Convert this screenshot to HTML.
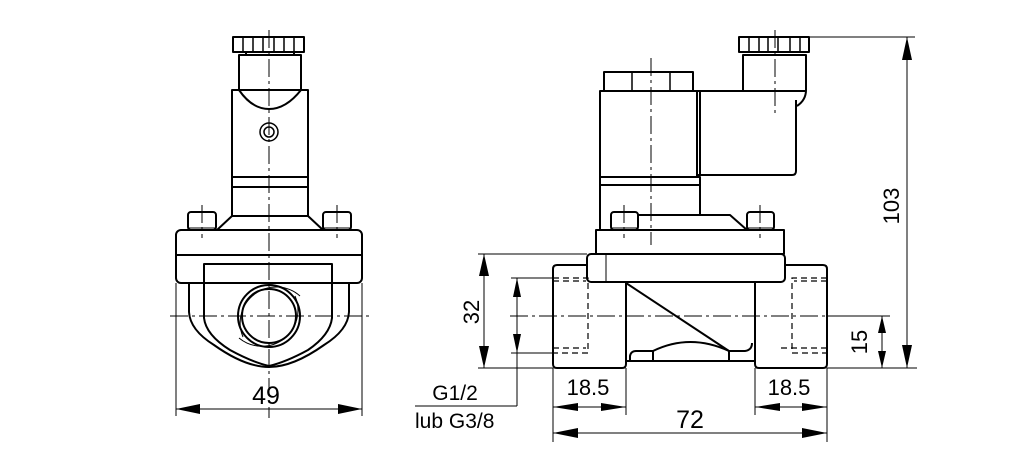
<!DOCTYPE html>
<html><head><meta charset="utf-8"><style>
html,body{margin:0;padding:0;background:#fff;}
svg{display:block;}
text{font-family:"Liberation Sans",sans-serif;fill:#000;}
</style></head><body>
<svg width="1034" height="472" viewBox="0 0 1034 472" xmlns="http://www.w3.org/2000/svg">
<g fill="none" stroke="#000" stroke-width="2" stroke-linejoin="round">
<!-- LEFT VIEW -->
<rect x="233" y="37" width="71" height="15"/>
<line x1="243" y1="37" x2="243" y2="52" stroke-width="1.5"/><line x1="253" y1="37" x2="253" y2="52" stroke-width="1.5"/><line x1="263" y1="37" x2="263" y2="52" stroke-width="1.5"/><line x1="274" y1="37" x2="274" y2="52" stroke-width="1.5"/><line x1="284" y1="37" x2="284" y2="52" stroke-width="1.5"/><line x1="294" y1="37" x2="294" y2="52" stroke-width="1.5"/>
<line x1="246" y1="52" x2="246" y2="55"/><line x1="294" y1="52" x2="294" y2="55"/>
<path d="M239 90 V55 H301 V90"/>
<path d="M239 90 Q252 109 269 109 Q286 109 301 90"/>
<rect x="232" y="90" width="76" height="126"/>
<line x1="232" y1="177" x2="308" y2="177"/><line x1="232" y1="187" x2="308" y2="187"/>
<circle cx="269" cy="132" r="9" stroke-width="1.5"/><circle cx="269" cy="132" r="5" stroke-width="1.5"/>
<path d="M232 216 L217 230 M308 216 L323 230"/>
<rect x="188" y="212" width="28" height="18" rx="3"/>
<rect x="323" y="212" width="28" height="18" rx="3"/>
<line x1="188" y1="228" x2="216" y2="228" stroke-width="1"/><line x1="323" y1="228" x2="351" y2="228" stroke-width="1"/>
<rect x="176" y="230" width="186" height="53" rx="5"/>
<line x1="176" y1="255" x2="362" y2="255"/>
<path d="M189 283 V312 Q190 330 214 345 Q245 367 269 367 Q293 367 324 345 Q348 330 349 312 V283"/>
<path d="M204 283 V264 H332 V283 M204 283 V318 Q206 335 230 350 Q252 362 269 366 M332 283 V318 Q330 335 308 350 Q286 362 269 366"/>
<circle cx="269" cy="316" r="27"/>
<circle cx="269" cy="316" r="31"/>
<path d="M243 337 A36 36 0 0 1 300 296" stroke-width="1"/>
<path d="M295 296 A36 36 0 0 1 239 338" stroke-width="1"/>
<!-- RIGHT VIEW -->
<rect x="739" y="37" width="70" height="15"/>
<line x1="749" y1="37" x2="749" y2="52" stroke-width="1.5"/><line x1="759" y1="37" x2="759" y2="52" stroke-width="1.5"/><line x1="768" y1="37" x2="768" y2="52" stroke-width="1.5"/><line x1="778" y1="37" x2="778" y2="52" stroke-width="1.5"/><line x1="790" y1="37" x2="790" y2="52" stroke-width="1.5"/><line x1="800" y1="37" x2="800" y2="52" stroke-width="1.5"/>
<path d="M743 91 V55 H806 V90 Q806 100 797 106"/>
<path d="M697 91 H806"/>
<path d="M697 91 V175 H792 Q796 175 796 171 V100"/>
<rect x="604" y="72" width="89" height="19"/>
<line x1="632" y1="72" x2="632" y2="91" stroke-width="1.5"/><line x1="670" y1="72" x2="670" y2="91" stroke-width="1.5"/>
<rect x="600" y="91" width="97" height="86"/>
<line x1="700" y1="91" x2="700" y2="175"/>
<path d="M600 177 H700 V215 M600 185 H700 M600 177 V230"/>
<path d="M638 215 H730 L747 230"/>
<rect x="611" y="212" width="27" height="18" rx="3"/>
<rect x="747" y="212" width="27" height="18" rx="3"/>
<line x1="611" y1="228" x2="638" y2="228" stroke-width="1"/><line x1="747" y1="228" x2="774" y2="228" stroke-width="1"/>
<rect x="596" y="230" width="188" height="24"/>
<rect x="587" y="254" width="198" height="28" rx="4"/>
<line x1="606" y1="254" x2="606" y2="282" stroke-width="1"/>
<path d="M587 265 H557 Q553 265 553 269 V364 Q553 368 557 368 H622 Q626 368 626 364 V283"/>
<path d="M785 265 H823 Q827 265 827 269 V364 Q827 368 823 368 H759 Q755 368 755 364 V283"/>
<path d="M626 283 L729 351"/>
<path d="M626 361 H755 M630 361 V356 Q631 351 636 351 H653 V361 M653 351 Q690 333 729 351 V361 M729 351 H745 Q752 350 752 343"/>
</g>
<!-- dashed threads -->
<g fill="none" stroke="#000" stroke-width="1.2" stroke-dasharray="6,4">
<path d="M553 278 H588 V353 H553 M553 281 H586"/>
<path d="M553 348 H586"/>
<path d="M827 278 H792 V353 H827 M827 281 H794 M827 348 H780"/>
</g>
<!-- centerlines -->
<g fill="none" stroke="#000" stroke-width="1" stroke-dasharray="18,4,3,4">
<line x1="269" y1="30" x2="269" y2="418"/>
<line x1="170" y1="316" x2="372" y2="316"/>
<line x1="651" y1="58" x2="651" y2="245"/>
<line x1="775" y1="30" x2="775" y2="115"/>
<line x1="510" y1="316" x2="890" y2="316"/>
<line x1="202" y1="205" x2="202" y2="238"/><line x1="337" y1="205" x2="337" y2="238"/>
<line x1="624" y1="205" x2="624" y2="238"/><line x1="760" y1="205" x2="760" y2="238"/>
</g>
<!-- dimension lines -->
<g fill="none" stroke="#000" stroke-width="1">
<line x1="176" y1="283" x2="176" y2="416"/><line x1="362" y1="283" x2="362" y2="416"/>
<line x1="176" y1="409" x2="362" y2="409"/>
<line x1="809" y1="37" x2="915" y2="37"/><line x1="827" y1="368" x2="917" y2="368"/>
<line x1="907" y1="37" x2="907" y2="368"/>
<line x1="478" y1="254" x2="587" y2="254"/><line x1="478" y1="368" x2="553" y2="368"/>
<line x1="484" y1="254" x2="484" y2="368"/>
<line x1="511" y1="278" x2="553" y2="278"/><line x1="511" y1="353" x2="553" y2="353"/>
<line x1="517" y1="278" x2="517" y2="406"/><line x1="415" y1="406" x2="517" y2="406"/>
<line x1="827" y1="316" x2="888" y2="316"/>
<line x1="882" y1="316" x2="882" y2="368"/>
<line x1="553" y1="368" x2="553" y2="442"/><line x1="626" y1="368" x2="626" y2="415"/>
<line x1="755" y1="368" x2="755" y2="415"/><line x1="827" y1="368" x2="827" y2="442"/>
<line x1="553" y1="407" x2="626" y2="407"/><line x1="755" y1="407" x2="827" y2="407"/>
<line x1="553" y1="433" x2="827" y2="433"/>
</g>
<g fill="#000" stroke="none">
<polygon points="176,409 200,404 200,414"/><polygon points="362,409 338,404 338,414"/>
<polygon points="907,37 902,60 912,60"/><polygon points="907,368 902,345 912,345"/>
<polygon points="484,254 479,276 489,276"/><polygon points="484,368 479,346 489,346"/>
<polygon points="517,278 513,297 521,297"/><polygon points="517,353 513,334 521,334"/>
<polygon points="882,316 878,333 886,333"/><polygon points="882,368 878,351 886,351"/>
<polygon points="553,407 578,403 578,411"/><polygon points="626,407 601,403 601,411"/>
<polygon points="755,407 780,403 780,411"/><polygon points="827,407 802,403 802,411"/>
<polygon points="553,433 578,428 578,438"/><polygon points="827,433 802,428 802,438"/>
</g>
<g font-size="25">
<text x="266" y="404" text-anchor="middle">49</text>
<text x="690" y="428" text-anchor="middle">72</text>
<text x="588" y="395" text-anchor="middle" font-size="22">18.5</text>
<text x="789" y="395" text-anchor="middle" font-size="22">18.5</text>
<text transform="translate(479,312) rotate(-90)" text-anchor="middle" font-size="22">32</text>
<text transform="translate(867,342) rotate(-90)" text-anchor="middle" font-size="22">15</text>
<text transform="translate(899,206) rotate(-90)" text-anchor="middle" font-size="22">103</text>
<text x="455" y="400" text-anchor="middle" font-size="21">G1/2</text>
<text x="415" y="428" font-size="21">lub G3/8</text>
</g>
</svg>
</body></html>
